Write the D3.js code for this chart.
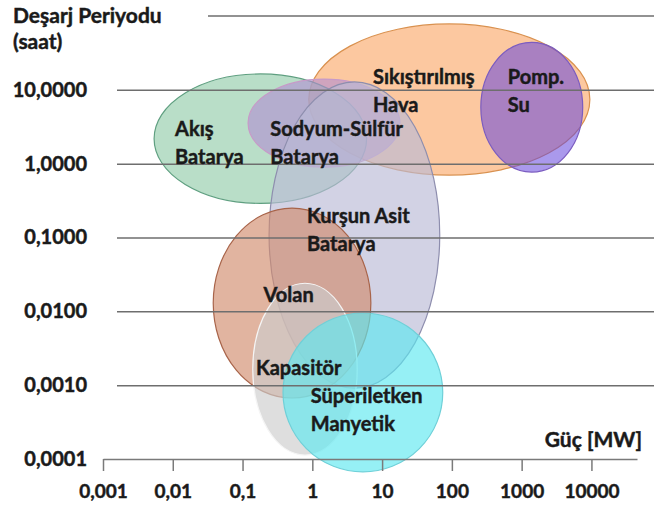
<!DOCTYPE html>
<html>
<head>
<meta charset="utf-8">
<script src="https://cdn.jsdelivr.net/npm/d3@7"></script>
<style>
  body { margin: 0; background: #fff; }
  svg text { font-family: Lato, "Open Sans", sans-serif; font-weight: bold; fill: #1a1a1a;
    stroke: #1a1a1a; stroke-width: 0.45px; }
</style>
</head>
<body>
<svg width="654" height="506"></svg>
<script>
// Technologies, drawn back to front
var techNames = ["Sıkıştırılmış Hava", "Pomp. Su", "Akış Batarya", "Sodyum-Sülfür Batarya",
  "Kurşun Asit Batarya", "Volan", "Kapasitör", "Süperiletken Manyetik"];
// Power range [MW]
var powerMin = [0.89, 260, 0.0054, 0.12, 0.24, 0.038, 0.14, 0.38];
var powerMax = [9500, 7500, 6.0, 18, 67, 6.9, 4.4, 74];
// Discharge duration range [hours]
var durMin = [0.70, 0.77, 0.29, 0.9, 0.00091, 0.00067, 0.000113, 0.000067];
var durMax = [78, 44, 16.4, 14, 12.8, 0.25, 0.024, 0.0095];

// Label lines and where they start (power, duration of first baseline)
var labelLines = [["Sıkıştırılmış", "Hava"], ["Pomp.", "Su"], ["Akış", "Batarya"],
  ["Sodyum-Sülfür", "Batarya"], ["Kurşun Asit", "Batarya"], ["Volan"], ["Kapasitör"],
  ["Süperiletken", "Manyetik"]];
var labelPower = [7.4, 634, 0.0108, 0.25, 0.84, 0.2, 0.156, 0.95];
var labelDur = [12.0, 12.0, 2.37, 2.37, 0.157, 0.0134, 0.00137, 0.00057];

// Axis ticks
var xTicks = [0.001, 0.01, 0.1, 1, 10, 100, 1000, 10000];
var xTickLabels = ["0,001", "0,01", "0,1", "1", "10", "100", "1000", "10000"];
var yTicks = [10, 1, 0.1, 0.01, 0.001, 0.0001];
var yTickLabels = ["10,0000", "1,0000", "0,1000", "0,0100", "0,0010", "0,0001"];

var styles = {
  "Sıkıştırılmış Hava":     { fill: "#faaa6d", op: 0.65, stroke: "#d9914f" },
  "Pomp. Su":               { fill: "#6446dc", op: 0.55, stroke: "#7b5cc0" },
  "Akış Batarya":           { fill: "#93ccaa", op: 0.65, stroke: "#5f9f80" },
  "Sodyum-Sülfür Batarya":  { fill: "#b08cd2", op: 0.6,  stroke: "#c79ac8" },
  "Kurşun Asit Batarya":    { fill: "#babad5", op: 0.65, stroke: "#8e8eae" },
  "Volan":                  { fill: "#d18c6d", op: 0.65, stroke: "#a8644a" },
  "Kapasitör":              { fill: "#cccccc", op: 0.65, stroke: "#f5f5f5" },
  "Süperiletken Manyetik":  { fill: "#5de8f0", op: 0.65, stroke: "#6fd0d8" }
};

var svg = d3.select("svg");
var width = +svg.attr("width");

var x = d3.scaleLog().domain([0.001, 45000]).range([103, 637]);
var y = d3.scaleLog().domain([0.0001, 100]).range([459, 16]);

// Ellipses
var tech = techNames.map(function(name, i) {
  return { name: name, x0: powerMin[i], x1: powerMax[i], y0: durMin[i], y1: durMax[i] };
});

svg.append("g")
  .selectAll("ellipse")
  .data(tech)
  .enter().append("ellipse")
  .attr("cx", d => (x(d.x0) + x(d.x1)) / 2)
  .attr("cy", d => (y(d.y0) + y(d.y1)) / 2)
  .attr("rx", d => (x(d.x1) - x(d.x0)) / 2)
  .attr("ry", d => (y(d.y0) - y(d.y1)) / 2)
  .attr("fill", d => styles[d.name].fill)
  .attr("fill-opacity", d => styles[d.name].op)
  .attr("stroke", d => styles[d.name].stroke)
  .attr("stroke-width", 1.2);

// Y axis: labels + gridlines
var yAxis = d3.axisLeft(y)
  .tickValues(yTicks)
  .tickFormat((d, i) => yTickLabels[i])
  .tickSize(-(width - 117))
  .tickPadding(30);

var gy = svg.append("g")
  .attr("transform", "translate(117,0)")
  .call(yAxis);
gy.select(".domain").remove();
gy.selectAll(".tick line")
  .attr("stroke", "#6e6e6e")
  .attr("stroke-width", 1.5)
  .filter(d => d === 0.0001).remove();
gy.selectAll(".tick text")
  .attr("font-size", 20)
  .attr("font-family", null)
  .attr("fill", "#1a1a1a");

// top line at 100 h
svg.append("line")
  .attr("x1", 208).attr("x2", width)
  .attr("y1", y(100)).attr("y2", y(100))
  .attr("stroke", "#6e6e6e")
  .attr("stroke-width", 1.5);

// X axis
var xAxis = d3.axisBottom(x)
  .tickValues(xTicks)
  .tickFormat((d, i) => xTickLabels[i])
  .tickSize(12)
  .tickSizeOuter(0)
  .tickPadding(14);

var gx = svg.append("g")
  .attr("transform", "translate(0," + y(0.0001) + ")")
  .call(xAxis);
gx.select(".domain").attr("stroke", "#7a7a7a").attr("stroke-width", 1.5);
gx.selectAll(".tick line").attr("stroke", "#7a7a7a").attr("stroke-width", 1.5);
gx.selectAll(".tick text")
  .attr("font-size", 19)
  .attr("font-family", null)
  .attr("fill", "#1a1a1a");

// Ellipse labels
var labels = svg.append("g");
techNames.forEach(function(name, i) {
  var t = labels.append("text")
    .attr("x", x(labelPower[i]))
    .attr("y", y(labelDur[i]))
    .attr("font-size", 20);
  labelLines[i].forEach(function(line, j) {
    t.append("tspan")
      .attr("x", x(labelPower[i]))
      .attr("dy", j === 0 ? 0 : 28)
      .text(line);
  });
});

// Axis titles
svg.append("text")
  .attr("x", 13).attr("y", 23)
  .attr("font-size", 21)
  .text("Deşarj Periyodu");
svg.append("text")
  .attr("x", 13).attr("y", 49)
  .attr("font-size", 21)
  .text("(saat)");
svg.append("text")
  .attr("x", 642).attr("y", 447)
  .attr("text-anchor", "end")
  .attr("font-size", 21)
  .text("Güç [MW]");
</script>
</body>
</html>
